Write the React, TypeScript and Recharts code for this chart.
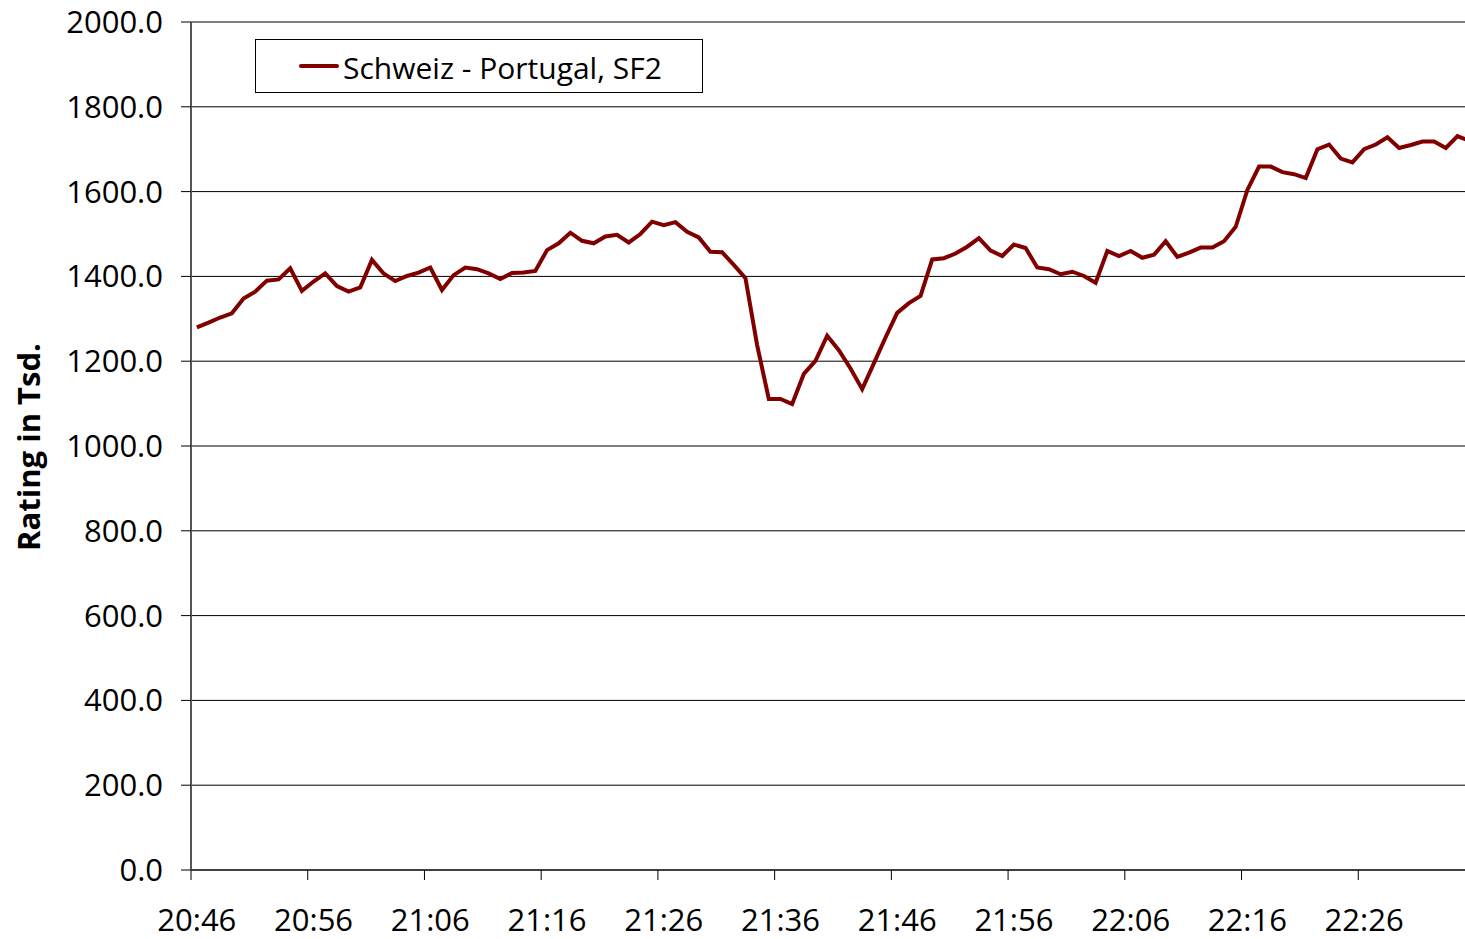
import { LineChart, Line, XAxis, YAxis, CartesianGrid, Legend } from 'recharts';

// minute-by-minute rating (thousands), 20:46 onwards
const ratings = [
  1280, 1291, 1303, 1313, 1348, 1364, 1390, 1393, 1419, 1366,
  1388, 1407, 1377, 1364, 1374, 1439, 1407, 1389, 1401, 1409,
  1421, 1368, 1403, 1421, 1417, 1407, 1394, 1408, 1409, 1413,
  1462, 1478, 1503, 1484, 1478, 1494, 1498, 1480, 1500, 1529,
  1521, 1528, 1505, 1492, 1458, 1457, 1427, 1396, 1238, 1111,
  1111, 1099, 1170, 1201, 1260, 1226, 1183, 1134, 1195, 1256,
  1314, 1337, 1354, 1440, 1443, 1454, 1470, 1490, 1461, 1448,
  1475, 1467, 1421, 1417, 1405, 1411, 1401, 1385, 1460, 1448,
  1460, 1444, 1451, 1483, 1446, 1456, 1468, 1468, 1483, 1517,
  1604, 1659, 1659, 1646, 1641, 1632, 1700, 1711, 1678, 1669,
  1700, 1711, 1728, 1703, 1710, 1718, 1718, 1703, 1731, 1720,
];

const timeLabels = ['20:46', '20:56', '21:06', '21:16', '21:26', '21:36', '21:46', '21:56', '22:06', '22:16', '22:26'];
const xTicks = [0, 10, 20, 30, 40, 50, 60, 70, 80, 90, 100];
const yTicks = [0, 200, 400, 600, 800, 1000, 1200, 1400, 1600, 1800, 2000];
const seriesName = 'Schweiz - Portugal, SF2';

const FONT = '"Open Sans", sans-serif';
const RED = '#800000';
const BAND = 11.667;

const data = ratings.map((v, i) => ({ pos: i + 0.5, rating: v }));

function TimeTick(props: any) {
  const { x, y, payload } = props;
  const label = timeLabels[Math.round(payload.value / 10)];
  return (
    <text x={x + BAND / 2} y={y} dy="0.71em" textAnchor="middle" fontSize={31} fontFamily={FONT} fill="#000">
      {label}
    </text>
  );
}

function YTitle() {
  return (
    <text
      x={40}
      y={447}
      transform="rotate(-90, 40, 447)"
      textAnchor="middle"
      fontSize={31}
      fontWeight="bold"
      fontFamily={FONT}
      fill="#000"
    >
      Rating in Tsd.
    </text>
  );
}

function LegendBox() {
  return (
    <svg width={448} height={54} style={{ display: 'block' }}>
      <rect x={0.5} y={0.5} width={447} height={53} fill="#fff" stroke="#000" />
      <line x1={46} y1={27} x2={82} y2={27} stroke={RED} strokeWidth={4} strokeLinecap="round" />
      <text x={88} y={40} fontSize={30} fontFamily={FONT} fill="#000">
        {seriesName}
      </text>
    </svg>
  );
}

export default function App() {
  return (
    <div style={{ position: 'absolute', left: 0, top: 0, width: 1465, height: 939, overflow: 'hidden', background: '#fff' }}>
      <LineChart
        width={1490}
        height={939}
        data={data}
        margin={{ top: 22, right: 15, left: 111, bottom: 9 }}
      >
        <CartesianGrid vertical={false} stroke="#000" strokeWidth={1} />
        <XAxis
          dataKey="pos"
          type="number"
          domain={[0, 110]}
          ticks={xTicks}
          interval={0}
          height={60}
          tickSize={10}
          tickMargin={29}
          axisLine={{ stroke: '#000', strokeWidth: 1 }}
          tickLine={{ stroke: '#000' }}
          tick={<TimeTick />}
        />
        <YAxis
          width={80}
          domain={[0, 2000]}
          ticks={yTicks}
          interval={0}
          tickSize={10}
          tickMargin={18}
          tickFormatter={(v: number) => v.toFixed(1)}
          axisLine={{ stroke: '#555', strokeWidth: 2 }}
          tickLine={{ stroke: '#000' }}
          tick={{ fontSize: 31, fontFamily: FONT, fill: '#000' }}
          label={{ value: 'Rating in Tsd.', content: () => <YTitle /> }}
        />
        <Legend
          layout="horizontal"
          verticalAlign="middle"
          align="center"
          wrapperStyle={{ left: 255, top: 39, width: 448, height: 54 }}
          content={() => <LegendBox />}
        />
        <Line
          type="linear"
          dataKey="rating"
          name={seriesName}
          stroke={RED}
          strokeWidth={4}
          dot={false}
          isAnimationActive={false}
        />
      </LineChart>
    </div>
  );
}
